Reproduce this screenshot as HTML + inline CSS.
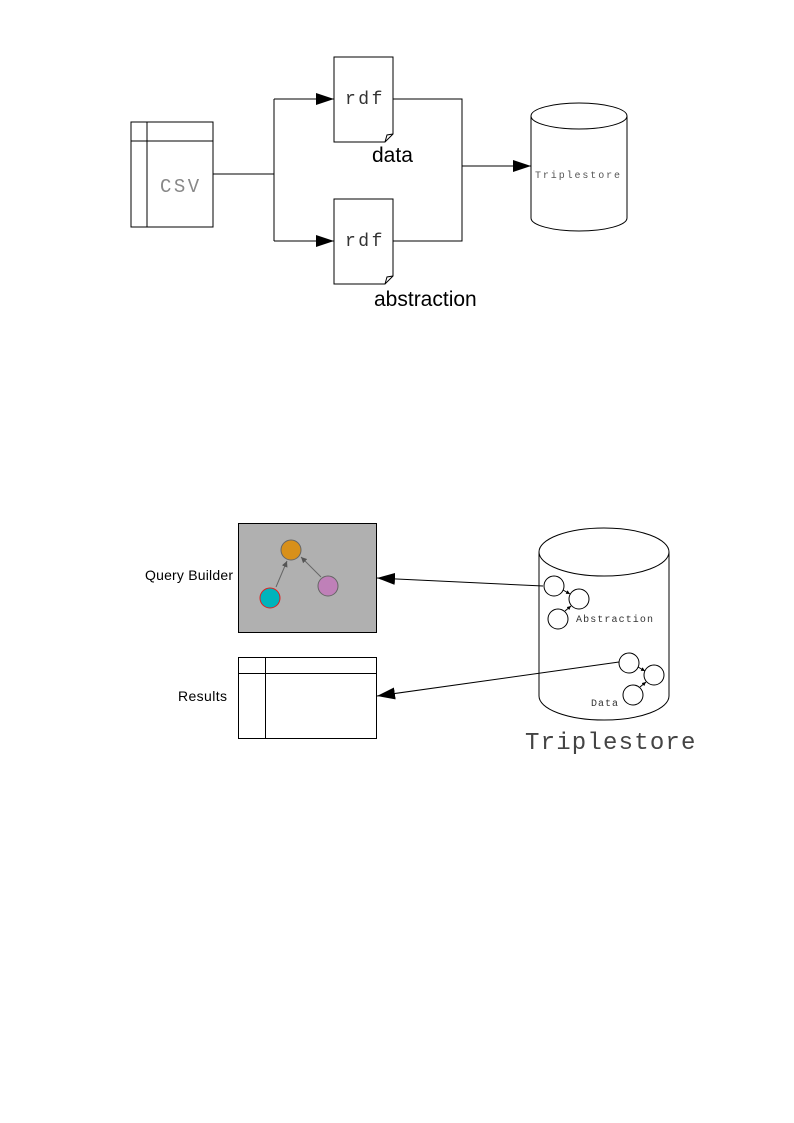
<!DOCTYPE html>
<html><head><meta charset="utf-8"><style>html,body{margin:0;padding:0;background:#fff}svg{display:block}</style></head>
<body>
<svg width="794" height="1123" xmlns="http://www.w3.org/2000/svg">
<defs>
<marker id="a" markerWidth="18" markerHeight="12" refX="18" refY="6" orient="auto" markerUnits="userSpaceOnUse"><path d="M0,0 L18,6 L0,12 z" fill="#000"/></marker>
<marker id="s" markerWidth="6" markerHeight="6" refX="6" refY="3" orient="auto" markerUnits="userSpaceOnUse"><path d="M0,0 L6,3 L0,6 z" fill="#555"/></marker>
<marker id="t" markerWidth="4" markerHeight="4" refX="4" refY="2" orient="auto" markerUnits="userSpaceOnUse"><path d="M0,0 L4,2 L0,4 z" fill="#000"/></marker>
</defs>
<g fill="none" stroke="#000" stroke-width="1">
<rect x="131" y="122" width="82" height="105" fill="#fff"/>
<line x1="147" y1="122" x2="147" y2="227"/>
<line x1="131" y1="141" x2="213" y2="141"/>
<polyline points="213,174 274,174"/>
<polyline points="274,99 274,241"/>
<line x1="274" y1="99" x2="334" y2="99" marker-end="url(#a)"/>
<line x1="274" y1="241" x2="334" y2="241" marker-end="url(#a)"/>
<path d="M334,57 H393 V134 L385,142 H334 Z" fill="#fff"/>
<path d="M393,134 L387,135 L385,142" />
<path d="M334,199 H393 V276 L385,284 H334 Z" fill="#fff"/>
<path d="M393,276 L387,277 L385,284" />
<polyline points="393,99 462,99 462,241 393,241"/>
<line x1="462" y1="166" x2="531" y2="166" marker-end="url(#a)"/>
<path d="M531,116 V218 A48,13 0 0 0 627,218 V116" fill="#fff"/>
<ellipse cx="579" cy="116" rx="48" ry="13" fill="#fff"/>
</g>
<g font-family="Liberation Mono, monospace">
<text x="160" y="192" font-size="19" fill="#888" letter-spacing="2.5">CSV</text>
<text x="345" y="104" font-size="18" fill="#333" letter-spacing="2.5">rdf</text>
<text x="345" y="246" font-size="18" fill="#333" letter-spacing="2.5">rdf</text>
<text x="535" y="178" font-size="10" fill="#555" letter-spacing="1.9">Triplestore</text>
</g>
<g font-family="Liberation Sans, sans-serif" font-size="21" fill="#000">
<text x="372" y="162">data</text>
<text x="374" y="306">abstraction</text>
</g>

<rect x="238.5" y="523.5" width="138" height="109" fill="#b0b0b0" stroke="#000"/>
<line x1="276" y1="587" x2="287" y2="561" stroke="#666" marker-end="url(#s)"/>
<line x1="321" y1="577" x2="301" y2="557" stroke="#666" marker-end="url(#s)"/>
<circle cx="291" cy="550" r="10" fill="#d8901a" stroke="#666"/>
<circle cx="270" cy="598" r="10" fill="#00b4bc" stroke="#e02020"/>
<circle cx="328" cy="586" r="10" fill="#bf80b8" stroke="#666"/>

<g fill="none" stroke="#000">
<rect x="238.5" y="657.5" width="138" height="81" fill="#fff"/>
<line x1="265.5" y1="657" x2="265.5" y2="738"/>
<line x1="238" y1="673.5" x2="376" y2="673.5"/>
<path d="M539,552 V696 A65,24 0 0 0 669,696 V552" fill="#fff"/>
<ellipse cx="604" cy="552" rx="65" ry="24" fill="#fff"/>
<line x1="543" y1="586" x2="377" y2="578" marker-end="url(#a)"/>
<line x1="619" y1="662" x2="377" y2="696" marker-end="url(#a)"/>
<circle cx="554" cy="586" r="10" fill="#fff"/>
<circle cx="579" cy="599" r="10" fill="#fff"/>
<circle cx="558" cy="619" r="10" fill="#fff"/>
<circle cx="629" cy="663" r="10" fill="#fff"/>
<circle cx="654" cy="675" r="10" fill="#fff"/>
<circle cx="633" cy="695" r="10" fill="#fff"/>
<line x1="563" y1="590" x2="570" y2="594" marker-end="url(#t)"/>
<line x1="565" y1="611" x2="571" y2="606" marker-end="url(#t)"/>
<line x1="638" y1="667" x2="645" y2="671" marker-end="url(#t)"/>
<line x1="640" y1="687" x2="646" y2="682" marker-end="url(#t)"/>
</g>
<g font-family="Liberation Sans, sans-serif" font-size="14" fill="#000">
<text x="145" y="580" textLength="88">Query Builder</text>
<text x="178" y="701" textLength="49">Results</text>
</g>
<g font-family="Liberation Mono, monospace" fill="#333">
<text x="576" y="622" font-size="10" letter-spacing="1.1">Abstraction</text>
<text x="591" y="706" font-size="10" letter-spacing="1">Data</text>
<text x="525" y="749" font-size="24" fill="#444" letter-spacing="1.2">Triplestore</text>
</g>
</svg>
</body></html>
